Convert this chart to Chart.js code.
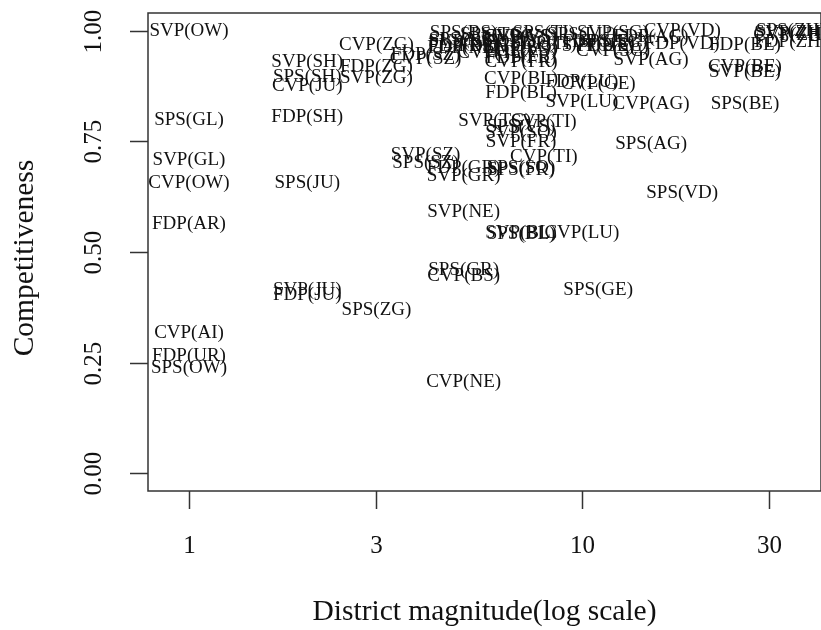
<!DOCTYPE html>
<html>
<head>
<meta charset="utf-8">
<script src="https://cdn.jsdelivr.net/npm/chart.js@4.4.1/dist/chart.umd.min.js"></script>
<style>
  html, body { margin: 0; padding: 0; background: #fff; overflow: hidden; }
  canvas { display: block; }
</style>
</head>
<body>
<canvas id="chart" width="821" height="630"></canvas>
<script>
// --------------
// DATA
// --------------
// district magnitude = seats per canton
const cantonCodes = ['ZH','BE','LU','UR','SZ','OW','NW','GL','ZG','FR','SO','BS','BL',
                     'SH','AR','AI','SG','GR','AG','TG','TI','VD','VS','NE','GE','JU'];
const cantonSeats = [34, 26, 10, 1, 4, 1, 1, 1, 3, 7, 7, 5, 7,
                     2, 1, 1, 12, 5, 15, 6, 8, 18, 7, 5, 11, 2];

const svpCantons = ['OW','GL','SH','JU','ZG','SZ','NE','GR','TG','TI','SO','FR','BL',
                    'LU','AG','BE','ZH','SG','VS','BS','GE'];
const svpScores  = [1.00, 0.708, 0.929, 0.414, 0.892, 0.719, 0.590, 0.672, 0.797, 0.794, 0.769, 0.748, 0.543,
                    0.839, 0.934, 0.907, 0.995, 0.995, 0.985, 0.975, 0.965];

const spsCantons = ['GL','OW','SH','JU','ZG','SZ','GR','VS','SO','FR','AG','VD','GE',
                    'BE','ZH','BS','TG','TI','LU','SG','NE','BL'];
const spsScores  = [0.798, 0.238, 0.895, 0.656, 0.369, 0.701, 0.459, 0.782, 0.690, 0.685, 0.744, 0.633, 0.414,
                    0.834, 1.00, 0.995, 0.99, 0.995, 0.99, 0.975, 0.98, 0.541];

const fdpCantons = ['AR','UR','SH','JU','ZG','SZ','GR','BL','FR','LU','VD','BE','ZH',
                    'BS','NE','TG','SO','VS','TI','GE','SG','AG'];
const fdpScores  = [0.563, 0.265, 0.805, 0.403, 0.918, 0.945, 0.690, 0.859, 0.938, 0.885, 0.970, 0.967, 0.975,
                    0.965, 0.96, 0.965, 0.975, 0.955, 0.97, 0.975, 0.965, 0.985];

const cvpCantons = ['OW','AI','JU','ZG','SZ','BS','NE','TI','BL','LU','GE','AG','BE',
                    'VD','ZH','TG','SO','VS','FR','SG'];
const cvpScores  = [0.656, 0.317, 0.875, 0.967, 0.935, 0.446, 0.206, 0.715, 0.890, 0.543, 0.880, 0.834, 0.918,
                    1.00, 0.99, 0.95, 0.96, 0.985, 0.93, 0.955];

const xTickValues = [1, 3, 10, 30];
const yTickValues = [0, 0.25, 0.5, 0.75, 1];
const yTickLabels = ['0.00', '0.25', '0.50', '0.75', '1.00'];
const xTitle = 'District magnitude(log scale)';
const yTitle = 'Competitiveness';

// --------------
// HELPERS
// --------------
function seatsOf(code) {
  return cantonSeats[cantonCodes.indexOf(code)];
}

function partySet(party, cantons, scores) {
  return {
    party: party,
    cantons: cantons,
    data: cantons.map((c, i) => ({ x: seatsOf(c), y: scores[i] })),
    pointRadius: 0,
    pointHoverRadius: 0,
    showLine: false
  };
}

const SERIF = '"Liberation Serif", "Times New Roman", serif';

// party(canton) text at every point
const textLabels = {
  id: 'textLabels',
  afterDatasetsDraw(chart) {
    const ctx = chart.ctx;
    ctx.save();
    ctx.font = '19px ' + SERIF;
    ctx.fillStyle = '#111';
    ctx.textAlign = 'center';
    ctx.textBaseline = 'middle';
    chart.data.datasets.forEach((ds, i) => {
      chart.getDatasetMeta(i).data.forEach((pt, j) => {
        ctx.fillText(ds.party + '(' + ds.cantons[j] + ')', pt.x, pt.y);
      });
    });
    ctx.restore();
  }
};

// R-style box, ticks and axis titles
const baseAxes = {
  id: 'baseAxes',
  afterDraw(chart) {
    const ctx = chart.ctx;
    const a = chart.chartArea;
    const xs = chart.scales.x, ys = chart.scales.y;
    ctx.save();
    ctx.strokeStyle = '#333';
    ctx.lineWidth = 1.5;
    ctx.strokeRect(a.left, a.top, a.right - a.left, a.bottom - a.top);

    ctx.fillStyle = '#111';
    ctx.font = '25px ' + SERIF;
    ctx.textAlign = 'center';
    ctx.textBaseline = 'middle';

    xTickValues.forEach(v => {
      const px = Math.round(xs.getPixelForValue(v)) + 0.5;
      ctx.beginPath();
      ctx.moveTo(px, a.bottom);
      ctx.lineTo(px, a.bottom + 18);
      ctx.stroke();
      ctx.fillText(String(v), px, a.bottom + 55);
    });

    yTickValues.forEach((v, i) => {
      const py = Math.round(ys.getPixelForValue(v)) + 0.5;
      ctx.beginPath();
      ctx.moveTo(a.left - 18, py);
      ctx.lineTo(a.left, py);
      ctx.stroke();
      ctx.save();
      ctx.translate(a.left - 54, py);
      ctx.rotate(-Math.PI / 2);
      ctx.fillText(yTickLabels[i], 0, 0);
      ctx.restore();
    });

    ctx.font = '29.5px ' + SERIF;
    ctx.fillText(xTitle, (a.left + a.right) / 2, a.bottom + 121);
    ctx.save();
    ctx.translate(a.left - 123, (a.top + a.bottom) / 2 + 6);
    ctx.rotate(-Math.PI / 2);
    ctx.fillText(yTitle, 0, 0);
    ctx.restore();
    ctx.restore();
  }
};

// --------------
// CHART
// --------------
new Chart(document.getElementById('chart'), {
  type: 'scatter',
  data: {
    datasets: [
      partySet('SVP', svpCantons, svpScores),
      partySet('SPS', spsCantons, spsScores),
      partySet('FDP', fdpCantons, fdpScores),
      partySet('CVP', cvpCantons, cvpScores)
    ]
  },
  options: {
    responsive: false,
    animation: false,
    layout: { padding: { left: 148, right: 0, top: 13, bottom: 139 } },
    plugins: { legend: { display: false }, tooltip: { enabled: false } },
    scales: {
      x: { type: 'logarithmic', min: 0.7865, max: 40.6, display: false },
      y: { type: 'linear', min: -0.04, max: 1.04, display: false }
    }
  },
  plugins: [textLabels, baseAxes]
});
</script>
</body>
</html>
